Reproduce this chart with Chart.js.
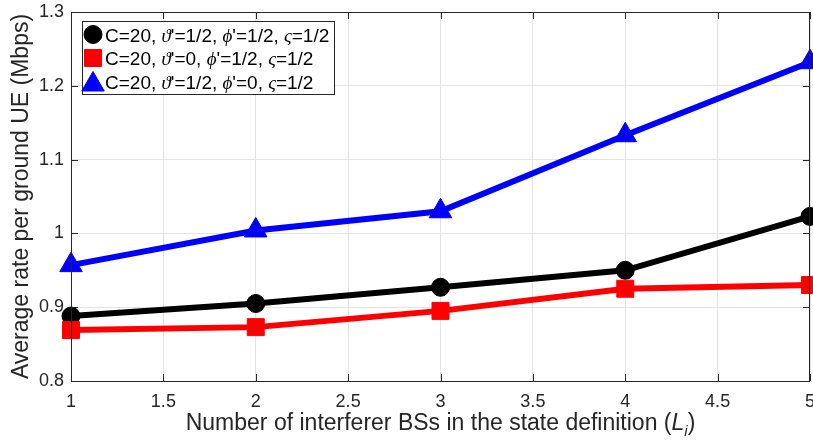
<!DOCTYPE html>
<html>
<head>
<meta charset="utf-8">
<script src="https://cdn.jsdelivr.net/npm/chart.js@4.4.1/dist/chart.umd.min.js"></script>
<style>
html,body{margin:0;padding:0;background:#fff;}
#wrap{width:813px;height:448px;position:relative;}
</style>
</head>
<body>
<div id="wrap"><canvas id="c" width="813" height="448"></canvas></div>
<script>
const xValues = [1, 2, 3, 4, 5];
const seriesA = [0.888, 0.905, 0.927, 0.950, 1.023];   // black circles
const seriesB = [0.869, 0.873, 0.895, 0.925, 0.930];   // red squares
const seriesC = [0.957, 1.004, 1.030, 1.133, 1.232];   // blue triangles
const yTickLabels = ['0.8', '0.9', '1', '1.1', '1.2', '1.3'];
const xTickLabels = ['1', '1.5', '2', '2.5', '3', '3.5', '4', '4.5', '5'];
const legendParts = [
  [['C=20, ', 0], ['\u03D1', 1], ["'=1/2, ", 0], ['\u03D5', 1], ["'=1/2, ", 0], ['\u03C2', 1], ['=1/2', 0]],
  [['C=20, ', 0], ['\u03D1', 1], ["'=0, ", 0], ['\u03D5', 1], ["'=1/2, ", 0], ['\u03C2', 1], ['=1/2', 0]],
  [['C=20, ', 0], ['\u03D1', 1], ["'=1/2, ", 0], ['\u03D5', 1], ["'=0, ", 0], ['\u03C2', 1], ['=1/2', 0]]
];
const yTitle = 'Average rate per ground UE (Mbps)';
const xTitle = 'Number of interferer BSs in the state definition (';

const toPts = arr => arr.map((v, i) => ({x: xValues[i], y: v}));
const AX = '#262626';
const FONT = '"Liberation Sans", Arial, Helvetica, sans-serif';

const decor = {
  id: 'decor',
  afterDraw(chart) {
    const ctx = chart.ctx;
    const a = chart.chartArea;
    const xs = chart.scales.x, ys = chart.scales.y;
    ctx.save();
    // box
    ctx.strokeStyle = AX;
    ctx.lineWidth = 1;
    ctx.strokeRect(Math.round(a.left) + 0.5, Math.round(a.top) + 0.5, Math.round(a.right - a.left) - 1, Math.round(a.bottom - a.top));
    // inward ticks
    const tl = 7;
    ctx.beginPath();
    xTickLabels.forEach(t => {
      const px = Math.round(xs.getPixelForValue(parseFloat(t))) + 0.5;
      ctx.moveTo(px, a.bottom); ctx.lineTo(px, a.bottom - tl);
      ctx.moveTo(px, a.top); ctx.lineTo(px, a.top + tl);
    });
    yTickLabels.forEach(t => {
      const py = Math.round(ys.getPixelForValue(parseFloat(t))) + 0.5;
      ctx.moveTo(a.left, py); ctx.lineTo(a.left + tl, py);
      ctx.moveTo(a.right, py); ctx.lineTo(a.right - tl, py);
    });
    ctx.stroke();

    // tick labels
    ctx.fillStyle = AX;
    ctx.font = '18px ' + FONT;
    ctx.textAlign = 'center';
    ctx.textBaseline = 'middle';
    xTickLabels.forEach(t => {
      ctx.fillText(t, xs.getPixelForValue(parseFloat(t)), a.bottom + 21);
    });
    ctx.textAlign = 'right';
    yTickLabels.forEach(t => {
      ctx.fillText(t, a.left - 7, ys.getPixelForValue(parseFloat(t)));
    });

    // y title
    ctx.font = '23px ' + FONT;
    ctx.textAlign = 'center';
    ctx.textBaseline = 'middle';
    ctx.save();
    ctx.translate(22, (a.top + a.bottom) / 2);
    ctx.rotate(-Math.PI / 2);
    ctx.fillText(yTitle, 0, 0);
    ctx.restore();

    // x title with italic L_i
    ctx.textAlign = 'left';
    ctx.textBaseline = 'alphabetic';
    const f1 = '23px ' + FONT, fi = 'italic 23px ' + FONT, fs = 'italic 15px ' + FONT;
    ctx.font = f1; const w1 = ctx.measureText(xTitle).width;
    ctx.font = fi; const wL = ctx.measureText('L').width;
    ctx.font = fs; const wi = ctx.measureText('i').width;
    ctx.font = f1; const wp = ctx.measureText(')').width;
    const total = w1 + wL + wi + wp;
    let tx = (a.left + a.right) / 2 - total / 2;
    const by = 430;
    ctx.font = f1; ctx.fillText(xTitle, tx, by); tx += w1;
    ctx.font = fi; ctx.fillText('L', tx, by); tx += wL;
    ctx.font = fs; ctx.fillText('i', tx, by + 6); tx += wi;
    ctx.font = f1; ctx.fillText(')', tx, by);

    // legend
    const lx = 82, ly = 21, lw = 252, lh = 73;
    ctx.fillStyle = '#fff';
    ctx.fillRect(lx, ly, lw, lh);
    ctx.strokeStyle = AX;
    ctx.lineWidth = 1;
    ctx.strokeRect(lx + 0.5, ly + 0.5, lw, lh);
    const rowsY = [34.5, 58, 81.5];
    chart.data.datasets.forEach((ds, i) => {
      const cy = rowsY[i];
      const cx = 93;
      ctx.fillStyle = ds.pointBackgroundColor;
      ctx.strokeStyle = ds.pointBorderColor;
      ctx.lineWidth = 1;
      Chart.helpers.drawPoint(ctx, {pointStyle: ds.pointStyle, radius: ds.pointRadius, borderWidth: 1}, cx, cy + (ds.pointStyle === 'triangle' ? 3 : 0));
      ctx.fillStyle = '#000';
      let px = 105;
      const py = cy + 7;
      legendParts[i].forEach(([t, it]) => {
        ctx.font = it ? 'italic 19px "Liberation Serif", "DejaVu Serif", serif' : '19px ' + FONT;
        ctx.fillText(t, px, py);
        px += ctx.measureText(t).width;
      });
    });
    ctx.restore();
  }
};

new Chart(document.getElementById('c'), {
  type: 'line',
  data: {
    datasets: [
      {label: 'A', data: toPts(seriesA), borderColor: '#000', backgroundColor: '#000',
       pointBackgroundColor: '#000', pointBorderColor: '#000', pointStyle: 'circle', pointRadius: 9,
       borderWidth: 6, pointBorderWidth: 1, clip: false, order: 3},
      {label: 'B', data: toPts(seriesB), borderColor: '#ff0000', backgroundColor: '#ff0000',
       pointBackgroundColor: '#ff0000', pointBorderColor: '#ff0000', pointStyle: 'rect', pointRadius: 12,
       borderWidth: 6, pointBorderWidth: 1, clip: false, order: 2},
      {label: 'C', data: toPts(seriesC), borderColor: '#0000ff', backgroundColor: '#0000ff',
       pointBackgroundColor: '#0000ff', pointBorderColor: '#0000ff', pointStyle: 'triangle', pointRadius: 13,
       borderWidth: 6, pointBorderWidth: 1, clip: false, order: 1}
    ]
  },
  options: {
    responsive: false,
    animation: false,
    events: [],
    layout: {autoPadding: false, padding: {top: 12, right: 3, left: 0, bottom: 0}},
    plugins: {legend: {display: false}, tooltip: {enabled: false}, title: {display: false}},
    scales: {
      x: {
        type: 'linear', min: 1, max: 5,
        afterFit(s) { s.height = 67; s.paddingLeft = 0; s.paddingRight = 0; },
        afterBuildTicks(s) { s.ticks = xTickLabels.map(v => ({value: parseFloat(v)})); },
        ticks: {display: false},
        grid: {color: '#e3e3e3', lineWidth: 1, drawTicks: false},
        border: {display: false}
      },
      y: {
        type: 'linear', min: 0.8, max: 1.3,
        afterFit(s) { s.width = 71; s.paddingTop = 0; s.paddingBottom = 0; },
        afterBuildTicks(s) { s.ticks = yTickLabels.map(v => ({value: parseFloat(v)})); },
        ticks: {display: false},
        grid: {color: '#e3e3e3', lineWidth: 1, drawTicks: false},
        border: {display: false}
      }
    }
  },
  plugins: [decor]
});
</script>
</body>
</html>
